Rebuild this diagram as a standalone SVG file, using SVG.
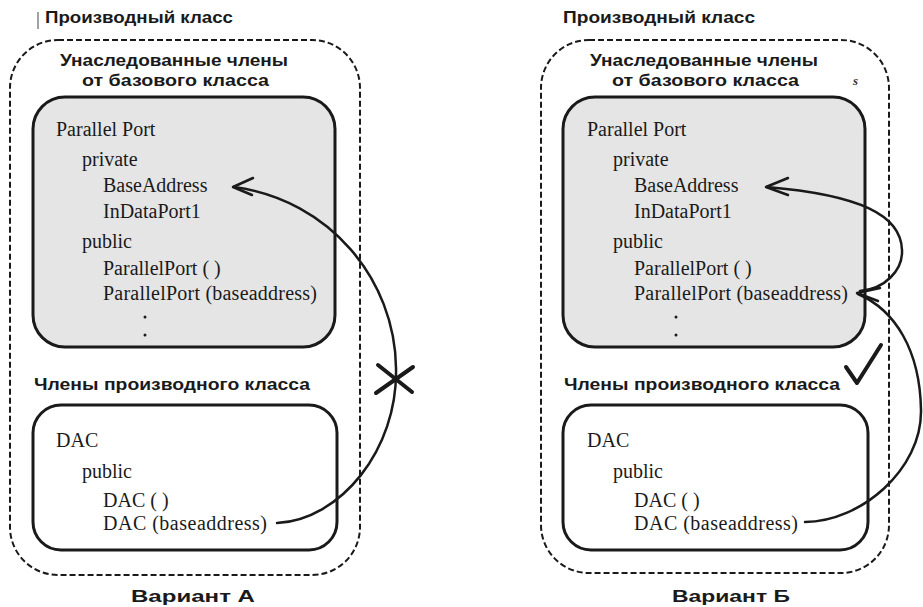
<svg xmlns="http://www.w3.org/2000/svg" width="923" height="607" viewBox="0 0 923 607">
<style>
.h{font-family:"Liberation Sans",Arial,sans-serif;font-weight:bold;font-size:17px;fill:#1a1a1a}
.t{font-family:"Liberation Serif","Times New Roman",serif;font-size:20px;fill:#1a1a1a}
.outer{fill:none;stroke:#1a1a1a;stroke-width:2;stroke-dasharray:6 3}
.base{fill:#e5e5e5;stroke:#1a1a1a;stroke-width:3}
.der{fill:#fff;stroke:#1a1a1a;stroke-width:3}
.c{fill:none;stroke:#1a1a1a;stroke-width:2.5;stroke-linecap:round;stroke-linejoin:round}
.mark{fill:none;stroke:#1a1a1a;stroke-width:4;stroke-linecap:round;stroke-linejoin:round}
</style>
<rect width="923" height="607" fill="#fff"/>

<g id="variantA">
  <line x1="38" y1="12" x2="38" y2="29" stroke="#444" stroke-width="1"/>
  <text class="h" x="45" y="23" textLength="188" lengthAdjust="spacingAndGlyphs">Производный класс</text>
  <rect class="outer" x="10" y="40" width="350" height="535" rx="48"/>
  <text class="h" x="60" y="66" textLength="228" lengthAdjust="spacingAndGlyphs">Унаследованные члены</text>
  <text class="h" x="82" y="86" textLength="187" lengthAdjust="spacingAndGlyphs">от базового класса</text>
  <g id="baseA">
    <rect class="base" x="33" y="97" width="302" height="250" rx="32"/>
    <text class="t" x="56" y="136">Parallel Port</text>
    <text class="t" x="82" y="166">private</text>
    <text class="t" x="103" y="192">BaseAddress</text>
    <text class="t" x="103" y="218">InDataPort1</text>
    <text class="t" x="82" y="248">public</text>
    <text class="t" x="103" y="275">ParallelPort ( )</text>
    <text class="t" x="103" y="300" textLength="214">ParallelPort (baseaddress)</text>
    <circle cx="145" cy="317" r="1.5" fill="#1a1a1a"/>
    <circle cx="145" cy="335" r="1.5" fill="#1a1a1a"/>
  </g>
  <text class="h" x="34" y="390" textLength="276" lengthAdjust="spacingAndGlyphs">Члены производного класса</text>
  <g id="derA">
    <rect class="der" x="33" y="405" width="304" height="145" rx="28"/>
    <text class="t" x="56" y="447">DAC</text>
    <text class="t" x="82" y="478">public</text>
    <text class="t" x="103" y="507">DAC ( )</text>
    <text class="t" x="103" y="530" textLength="164">DAC (baseaddress)</text>
  </g>
  <text class="h" x="193" y="602" text-anchor="middle" textLength="124" lengthAdjust="spacingAndGlyphs">Вариант А</text>
</g>

<g id="variantB">
  <text class="h" x="563" y="23" textLength="192" lengthAdjust="spacingAndGlyphs">Производный класс</text>
  <rect class="outer" x="541" y="40" width="348" height="533" rx="48"/>
  <text class="h" x="590" y="66" textLength="228" lengthAdjust="spacingAndGlyphs">Унаследованные члены</text>
  <text class="h" x="612" y="86" textLength="187" lengthAdjust="spacingAndGlyphs">от базового класса</text>
  <text x="853" y="85" font-family="Liberation Serif, serif" font-style="italic" font-weight="bold" font-size="13" fill="#333">s</text>
  <g id="baseB">
    <rect class="base" x="563" y="97" width="302" height="250" rx="32"/>
    <text class="t" x="587" y="136">Parallel Port</text>
    <text class="t" x="613" y="166">private</text>
    <text class="t" x="634" y="192">BaseAddress</text>
    <text class="t" x="634" y="218">InDataPort1</text>
    <text class="t" x="613" y="248">public</text>
    <text class="t" x="634" y="275">ParallelPort ( )</text>
    <text class="t" x="634" y="300" textLength="214">ParallelPort (baseaddress)</text>
    <circle cx="676" cy="317" r="1.5" fill="#1a1a1a"/>
    <circle cx="676" cy="335" r="1.5" fill="#1a1a1a"/>
  </g>
  <text class="h" x="564" y="390" textLength="276" lengthAdjust="spacingAndGlyphs">Члены производного класса</text>
  <g id="derB">
    <rect class="der" x="563" y="405" width="305" height="145" rx="28"/>
    <text class="t" x="587" y="447">DAC</text>
    <text class="t" x="613" y="478">public</text>
    <text class="t" x="634" y="507">DAC ( )</text>
    <text class="t" x="634" y="530" textLength="164">DAC (baseaddress)</text>
  </g>
  <text class="h" x="731" y="602" text-anchor="middle" textLength="118" lengthAdjust="spacingAndGlyphs">Вариант Б</text>
</g>

<g id="connectors">
  <path class="c" d="M277,523 C340,520 398,450 396,368 C395,280 330,200 234,187"/>
  <polyline class="c" points="253,178 233,187 252,195"/>
  <path class="mark" d="M378,365 L412,392 M376,393 L413,367"/>

  <path class="c" d="M860,291 C885,289 903,270 902,250 C901,215 860,195 767,187"/>
  <polyline class="c" points="788,178 766,187 788,195"/>
  <path class="c" d="M805,522 C860,522 922,470 921,410 C920,350 895,310 858,294"/>
  <polyline class="c" points="880,288 857,293 878,301"/>
  <path class="mark" d="M846,367 L857,383 L881,345"/>
</g>
</svg>
